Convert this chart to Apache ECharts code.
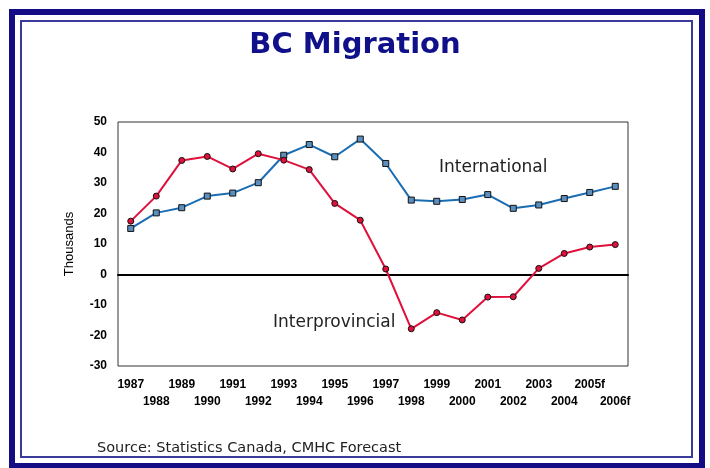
<!DOCTYPE html>
<html>
<head>
<meta charset="utf-8">
<title>BC Migration</title>
<script src="https://cdn.jsdelivr.net/npm/echarts@6/dist/echarts.min.js"></script>
<style>
  html, body { margin: 0; padding: 0; background: #fff; }
</style>
</head>
<body>
<div id="main" style="width:710px;height:468px;"></div>
<script type="text/javascript">
// years (forecast years marked with f)
var years = ['1987', '1988', '1989', '1990', '1991', '1992', '1993', '1994', '1995', '1996',
             '1997', '1998', '1999', '2000', '2001', '2002', '2003', '2004', '2005f', '2006f'];
// thousands of people
var international = [15.1, 20.2, 21.9, 25.7, 26.7, 30.1, 39.1, 42.6, 38.6, 44.4,
                     36.4, 24.4, 24.0, 24.6, 26.2, 21.7, 22.8, 24.9, 26.9, 28.9];
var interprovincial = [17.5, 25.7, 37.4, 38.7, 34.6, 39.6, 37.5, 34.4, 23.3, 17.8,
                       1.8, -17.8, -12.5, -14.9, -7.4, -7.3, 2.0, 6.9, 9.0, 9.8];
var yTicks = [-30, -20, -10, 0, 10, 20, 30, 40, 50];

var navy = '#140c84';
var myChart = echarts.init(document.getElementById('main'));

var option = {
    backgroundColor: '#fff',
    animation: false,
    title: {
        text: 'BC Migration',
        left: 'center',
        top: 26,
        textStyle: {
            fontFamily: 'DejaVu Sans',
            fontWeight: 'bold',
            fontSize: 29,
            color: '#10108a'
        }
    },
    grid: {
        left: 118,
        right: 82,
        top: 122,
        bottom: 102,
        show: true,
        borderColor: '#333',
        borderWidth: 1
    },
    xAxis: {
        type: 'category',
        data: years,
        boundaryGap: true,
        axisLine: { onZero: true, lineStyle: { color: '#000', width: 2 } },
        axisTick: { show: false },
        axisLabel: {
            interval: 0,
            margin: 10,
            lineHeight: 17,
            fontFamily: 'Liberation Sans',
            fontWeight: 'bold',
            fontSize: 12,
            color: '#000',
            formatter: function (v, i) {
                return i % 2 === 1 ? '\n' + v : v;
            }
        },
        splitLine: { show: false }
    },
    yAxis: {
        type: 'value',
        min: yTicks[0],
        max: yTicks[yTicks.length - 1],
        interval: 10,
        name: 'Thousands',
        nameLocation: 'middle',
        nameGap: 42,
        nameTextStyle: {
            fontFamily: 'Liberation Sans',
            fontSize: 13,
            color: '#000'
        },
        axisLine: { show: false },
        axisTick: { show: false },
        splitLine: { show: false },
        axisLabel: {
            margin: 11,
            fontFamily: 'Liberation Sans',
            fontWeight: 'bold',
            fontSize: 12,
            color: '#000'
        }
    },
    series: [
        {
            name: 'International',
            type: 'line',
            data: international,
            symbol: 'rect',
            symbolSize: 6,
            showAllSymbol: true,
            lineStyle: { color: '#1a6db3', width: 2 },
            itemStyle: { color: '#5b8fc0', borderColor: '#111', borderWidth: 1 },
            z: 3
        },
        {
            name: 'Interprovincial',
            type: 'line',
            data: interprovincial,
            symbol: 'circle',
            symbolSize: 6,
            showAllSymbol: true,
            lineStyle: { color: '#e0103c', width: 2 },
            itemStyle: { color: '#e0103c', borderColor: '#111', borderWidth: 1 },
            z: 4
        }
    ],
    graphic: [
        {
            type: 'rect',
            shape: { x: 12, y: 12, width: 690, height: 454 },
            style: { fill: 'none', stroke: navy, lineWidth: 6 },
            silent: true
        },
        {
            type: 'rect',
            shape: { x: 21, y: 21, width: 671, height: 436 },
            style: { fill: 'none', stroke: '#3a3a9c', lineWidth: 2 },
            silent: true
        },
        {
            type: 'text',
            left: 439,
            top: 159,
            style: {
                text: 'International',
                fontFamily: 'DejaVu Sans',
                fontSize: 17,
                fill: '#222'
            }
        },
        {
            type: 'text',
            left: 273,
            top: 314,
            style: {
                text: 'Interprovincial',
                fontFamily: 'DejaVu Sans',
                fontSize: 17,
                fill: '#222'
            }
        },
        {
            type: 'text',
            left: 97,
            top: 441,
            style: {
                text: 'Source: Statistics Canada, CMHC Forecast',
                fontFamily: 'DejaVu Sans',
                fontSize: 14.5,
                fill: '#222'
            }
        }
    ]
};

myChart.setOption(option);
</script>
</body>
</html>
